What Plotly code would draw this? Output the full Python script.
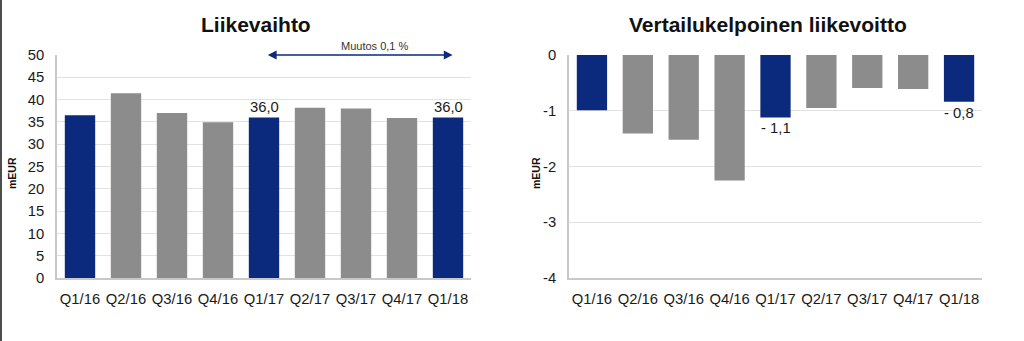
import plotly.graph_objects as go

# Quarterly figures (mEUR)
quarters = ["Q1/16", "Q2/16", "Q3/16", "Q4/16", "Q1/17", "Q2/17", "Q3/17", "Q4/17", "Q1/18"]
net_sales = [36.5, 41.4, 37.0, 34.9, 36.0, 38.2, 38.0, 35.9, 36.0]
comparable_ebit = [-0.99, -1.41, -1.52, -2.25, -1.12, -0.95, -0.59, -0.61, -0.84]
highlight = [True, False, False, False, True, False, False, False, True]
labelled = ["Q1/17", "Q1/18"]
change_text = "Muutos 0,1 %"
sales_ticks = [0, 5, 10, 15, 20, 25, 30, 35, 40, 45, 50]
ebit_ticks = [-4, -3, -2, -1, 0]

NAVY = "#0b2a7d"
GREY = "#8c8c8c"
FONT = "Liberation Sans, Arial, sans-serif"
bar_colors = [NAVY if h else GREY for h in highlight]

fig = go.Figure()
fig.add_trace(go.Bar(x=quarters, y=net_sales, marker=dict(color=bar_colors, line_width=0),
                     width=0.66, xaxis="x", yaxis="y", hoverinfo="x+y"))
fig.add_trace(go.Bar(x=quarters, y=comparable_ebit, marker=dict(color=bar_colors, line_width=0),
                     width=0.66, xaxis="x2", yaxis="y2", hoverinfo="x+y"))

tick_font = dict(family=FONT, size=14.8, color="#1a1a1a")
xcommon = dict(type="category", showgrid=False, showline=True, linecolor="#c8c8c8", linewidth=1.5,
               tickfont=tick_font, ticks="outside", ticklen=6, tickcolor="rgba(0,0,0,0)",
               zeroline=False, fixedrange=True, automargin=False)
ycommon = dict(showgrid=True, gridcolor="#e2e2e2", gridwidth=1, showline=True, linecolor="#c8c8c8",
               linewidth=1.5, tickfont=tick_font, zeroline=False, ticks="outside", ticklen=8,
               tickcolor="rgba(0,0,0,0)", fixedrange=True, automargin=False)

y0, y1 = (341 - 278) / 341, (341 - 55) / 341
fig.update_layout(
    width=1024, height=341,
    margin=dict(l=0, r=0, t=0, b=0, autoexpand=False),
    paper_bgcolor="white", plot_bgcolor="white",
    showlegend=False, bargap=0.34,
    xaxis=dict(domain=[57 / 1024, 471 / 1024], anchor="y", **xcommon),
    yaxis=dict(domain=[y0, y1], anchor="x", range=[0, 50], tickmode="array",
               tickvals=sales_ticks, ticktext=[str(t) for t in sales_ticks], **ycommon),
    xaxis2=dict(domain=[569 / 1024, 982 / 1024], anchor="y2", **xcommon),
    yaxis2=dict(domain=[y0, y1], anchor="x2", range=[-4, 0], tickmode="array",
                tickvals=ebit_ticks, ticktext=[str(t) for t in ebit_ticks], **ycommon),
)


def paper_y(px):
    return (341 - px) / 341


annotations = [
    dict(text="<b>Liikevaihto</b>", x=256 / 1024, y=paper_y(24), xref="paper", yref="paper",
         xanchor="center", yanchor="middle", showarrow=False,
         font=dict(family=FONT, size=21, color="#111111")),
    dict(text="<b>Vertailukelpoinen liikevoitto</b>", x=768 / 1024, y=paper_y(24),
         xref="paper", yref="paper", xanchor="center", yanchor="middle", showarrow=False,
         font=dict(family=FONT, size=21, color="#111111")),
    dict(text="<b>mEUR</b>", x=12 / 1024, y=paper_y(173), xref="paper", yref="paper",
         xanchor="center", yanchor="middle", textangle=-90, showarrow=False,
         font=dict(family=FONT, size=10.5, color="#111111")),
    dict(text="<b>mEUR</b>", x=536 / 1024, y=paper_y(173), xref="paper", yref="paper",
         xanchor="center", yanchor="middle", textangle=-90, showarrow=False,
         font=dict(family=FONT, size=10.5, color="#111111")),
]

# value labels for the highlighted quarters
for q, v in zip(quarters, net_sales):
    if q in labelled:
        annotations.append(dict(text=f"{v:.1f}".replace(".", ","), x=q, y=v, xref="x", yref="y",
                                xanchor="center", yanchor="bottom", yshift=0, showarrow=False,
                                font=dict(family=FONT, size=14.8, color="#1a1a1a")))
for q, v in zip(quarters, comparable_ebit):
    if q in labelled:
        txt = "- " + f"{abs(v):.1f}".replace(".", ",")
        annotations.append(dict(text=txt, x=q, y=v, xref="x2", yref="y2",
                                xanchor="center", yanchor="top", yshift=-1, showarrow=False,
                                font=dict(family=FONT, size=14.8, color="#1a1a1a")))

# change arrow between Q1/17 and Q1/18
i_start, i_end = quarters.index("Q1/17"), quarters.index("Q1/18")
annotations.append(dict(x=i_end + 0.1, y=50, ax=i_start + 0.05, ay=50, xref="x", yref="y",
                        axref="x", ayref="y", text="", showarrow=True, arrowhead=2,
                        arrowside="end+start", arrowsize=1.1, arrowwidth=1.6, arrowcolor=NAVY))
annotations.append(dict(text=change_text, x=(i_start + i_end) / 2 + 0.4, y=50, xref="x", yref="y",
                        xanchor="center", yanchor="middle", yshift=9, showarrow=False,
                        font=dict(family=FONT, size=11, color="#333333")))

fig.update_layout(annotations=annotations)

# thin frame line on the left edge
fig.add_shape(type="line", xref="paper", yref="paper", x0=1 / 1024, x1=1 / 1024, y0=0, y1=1,
              line=dict(color="#4d4d4d", width=2))

fig.write_html("out.html")
